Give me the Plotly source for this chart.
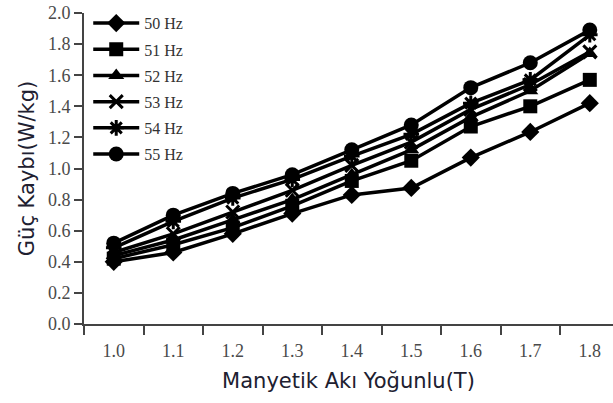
import plotly.graph_objects as go

flux = [1.0, 1.1, 1.2, 1.3, 1.4, 1.5, 1.6, 1.7, 1.8]
tick_labels = ["1.0", "1.1", "1.2", "1.3", "1.4", "1.5", "1.6", "1.7", "1.8"]

loss_50 = [0.40, 0.46, 0.58, 0.71, 0.83, 0.875, 1.07, 1.235, 1.42]
loss_51 = [0.42, 0.51, 0.62, 0.76, 0.92, 1.05, 1.27, 1.40, 1.57]
loss_52 = [0.44, 0.54, 0.67, 0.80, 0.96, 1.12, 1.33, 1.50, 1.74]
loss_53 = [0.46, 0.58, 0.72, 0.86, 1.02, 1.17, 1.38, 1.54, 1.75]
loss_54 = [0.49, 0.66, 0.81, 0.93, 1.08, 1.22, 1.42, 1.57, 1.86]
loss_55 = [0.52, 0.70, 0.84, 0.96, 1.12, 1.28, 1.52, 1.68, 1.89]

series_names = ["50 Hz", "51 Hz", "52 Hz", "53 Hz", "54 Hz", "55 Hz"]
series_vals = [loss_50, loss_51, loss_52, loss_53, loss_54, loss_55]
symbols = ["diamond", "square", "triangle-up", "x-thin-open", "asterisk-open", "circle"]
sizes = [14, 14, 14, 13, 13, 15]

fig = go.Figure()
for i, (name, vals, sym, sz) in enumerate(zip(series_names, series_vals, symbols, sizes)):
    fig.add_trace(go.Scatter(
        x=flux, y=vals, name=name, mode="lines+markers",
        legendgroup=name,
        line=dict(color="black", width=3.5),
        marker=dict(symbol=sym, size=sz, color="black",
                    line=dict(color="black", width=3 if "open" in sym else 0)),
    ))

axis_font = dict(family="DejaVu Sans", size=21, color="#202030")
tick_font = dict(family="Liberation Serif", size=18, color="#4a4a4a")

fig.update_layout(
    width=613, height=403,
    margin=dict(l=84, r=0, t=13, b=79),
    paper_bgcolor="white", plot_bgcolor="white",
    showlegend=True,
    legend=dict(x=0.008, y=1.022, xanchor="left", yanchor="top",
                font=dict(family="Liberation Serif", size=16, color="#333333"),
                bgcolor="rgba(0,0,0,0)", tracegroupgap=2.4, itemwidth=46),
    xaxis=dict(
        range=[0.95, 1.839], tickmode="array", tickvals=flux, ticktext=tick_labels,
        ticks="outside", ticklen=9, tickcolor="rgba(0,0,0,0)",
        tickfont=tick_font, showgrid=False, zeroline=False,
        showline=True, linecolor="#444444", linewidth=2,
        minor=dict(ticks="outside", ticklen=9, tickwidth=2, tickcolor="#444444",
                   tickmode="linear", tick0=0.95, dtick=0.1, showgrid=False),
        title=dict(text="Manyetik Akı Yoğunlu(T)", font=axis_font, standoff=14),
    ),
    yaxis=dict(
        range=[0, 2.0], tickmode="linear", tick0=0, dtick=0.2, tickformat=".1f",
        ticks="outside", ticklen=8, tickwidth=2, tickcolor="#444444",
        tickfont=tick_font, showgrid=False, zeroline=False,
        showline=True, linecolor="#444444", linewidth=2,
        title=dict(text="Güç Kaybı(W/kg)", font=axis_font, standoff=8),
    ),
)

fig.write_html("out.html")
